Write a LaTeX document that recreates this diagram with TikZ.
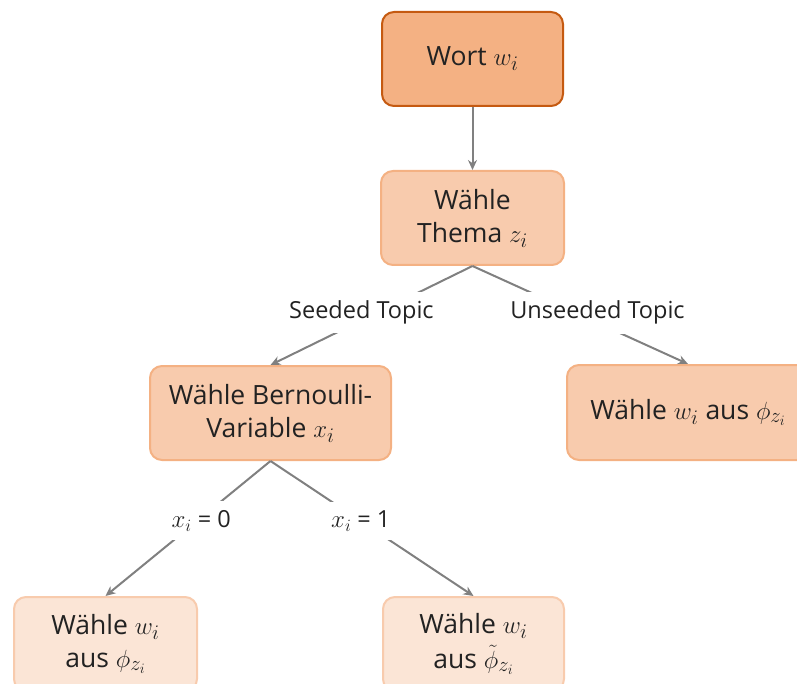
\documentclass[tikz,border=0pt]{standalone}
\usepackage{fontspec}
\setmainfont{Open Sans}
\usetikzlibrary{arrows.meta}

\definecolor{wortfill}{HTML}{F4B183}
\definecolor{wortdraw}{HTML}{C55A11}
\definecolor{midfill}{HTML}{F8CBAD}
\definecolor{middraw}{HTML}{F4B183}
\definecolor{leaffill}{HTML}{FBE5D6}
\definecolor{leafdraw}{HTML}{F8CBAD}
\definecolor{edgegray}{HTML}{808080}
\definecolor{txt}{HTML}{222222}

% math set a little larger, to sit with the sans text
\newcommand\boxmath[1]{{\fontsize{31}{32}\selectfont$#1$}}
\newcommand\lblmath[1]{{\fontsize{27}{28}\selectfont$#1$}}

\tikzset{
  box/.style={rounded corners=12pt, line width=2pt, align=center, inner sep=0pt,
    text=txt, font=\fontsize{26.5}{33}\selectfont},
  topbox/.style={box, fill=wortfill, draw=wortdraw},
  midbox/.style={box, fill=midfill, draw=middraw},
  leafbox/.style={box, fill=leaffill, draw=leafdraw},
  conn/.style={draw=edgegray, line width=2pt, -{Stealth[length=10pt,width=9pt]}},
  lbl/.style={fill=white, text=txt, inner xsep=4pt, inner ysep=9pt,
    font=\fontsize{23.5}{26}\selectfont}
}

\begin{document}
\begin{tikzpicture}[x=1pt, y=-1pt]
  \useasboundingbox (0,0) rectangle (797,684);

  % boxes
  \node[topbox, minimum width=181pt, minimum height=94pt] (wort) at (472.5,59) {Wort \boxmath{w_i}};
  \node[midbox, minimum width=183pt, minimum height=94pt] (thema) at (472.5,218) {Wähle\\Thema \boxmath{z_i}};
  \node[midbox, minimum width=241pt, minimum height=94pt] (bern) at (270.5,413) {Wähle Bernoulli-\\Variable \boxmath{x_i}};
  \node[midbox, minimum width=242pt, minimum height=95pt] (unseed) at (688,412.5) {Wähle \boxmath{w_i} aus \boxmath{\phi_{z_i}}};
  \node[leafbox, minimum width=183pt, minimum height=94pt] (leafa) at (105.5,644) {Wähle \boxmath{w_i}\\aus \boxmath{\phi_{z_i}}};
  \node[leafbox, minimum width=181pt, minimum height=94pt] (leafb) at (473.5,644) {Wähle \boxmath{w_i}\\[2pt]aus \boxmath{\tilde{\phi}_{z_i}}};

  % connectors
  \draw[conn] (wort) -- (thema);
  \draw[conn] (thema.south) -- node[lbl, pos=0.55, yshift=8pt] {Seeded Topic} (bern.north);
  \draw[conn] (thema.south) -- node[lbl, pos=0.58, yshift=10pt] {Unseeded Topic} (unseed.north);
  \draw[conn] (bern.south) -- node[lbl, pos=0.42, yshift=-3pt] {\lblmath{x_i} = 0} (leafa.north);
  \draw[conn] (bern.south) -- node[lbl, pos=0.445] {\lblmath{x_i} = 1} (leafb.north);
\end{tikzpicture}
\end{document}
